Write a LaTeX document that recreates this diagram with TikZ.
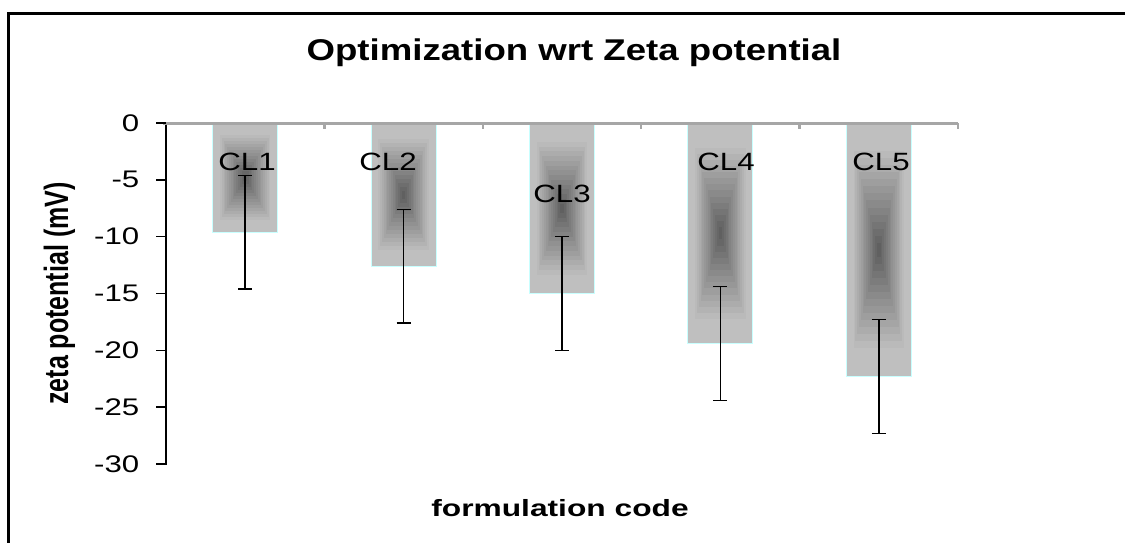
\documentclass[tikz,border=0pt]{standalone}
\usepackage{fontspec}
\setmainfont{Liberation Sans}
\usepackage{graphicx}
\definecolor{axisgray}{RGB}{166,166,166}
\definecolor{barcyan}{RGB}{200,255,255}
\newcommand\sxs[2]{\scalebox{#1}[1]{#2}}
\tikzset{
  frameline/.style={line width=2.5pt, black},
  yaxisline/.style={line width=1.5pt, black},
  xaxisline/.style={line width=3pt, draw=axisgray},
  errline/.style={line width=1.5pt, black},
  barborder/.style={draw=barcyan, line width=1pt},
  ticklab/.style={anchor=east, inner sep=0pt, font=\fontsize{24}{28}\selectfont},
  cllab/.style={anchor=base, inner sep=0pt, font=\fontsize{25}{30}\selectfont},
}
\newcommand\zbar[2]{% #1 = centre x, #2 = bottom y (page px, from top)
  \foreach \j in {0,...,17}{
    \pgfmathsetmacro\s{\j/18}
    \pgfmathsetmacro\f{max(0,(\s-0.18)/0.82)}
    \pgfmathsetmacro\p{25+40*\f}
    \pgfmathsetmacro\xl{#1-32.5*(1-\s)}
    \pgfmathsetmacro\xr{#1+32.5*(1-\s)}
    \pgfmathsetmacro\yt{-(123+(#2-123)/2*\s)}
    \pgfmathsetmacro\yb{-(#2-(#2-123)/2*\s)}
    \fill[black!\p] (\xl,\yt) rectangle (\xr,\yb);
  }
  \draw[barborder] ({#1-32.5},-123) rectangle ({#1+32.5},-#2);
}
\newcommand\zerr[2]{% centre x, value y (page px)
  \draw[errline] ({#1},{-(#2-56.8)}) -- ({#1},{-(#2+56.8)});
  \draw[errline] ({#1-7},{-(#2-56.8)}) -- ({#1+7},{-(#2-56.8)});
  \draw[errline] ({#1-7},{-(#2+56.8)}) -- ({#1+7},{-(#2+56.8)});
}
\begin{document}
\begin{tikzpicture}[x=1pt,y=1pt]
\useasboundingbox (0,0) rectangle (1125,-542);
\clip (0,0) rectangle (1125,-542);
\fill[white] (0,0) rectangle (1125,-542);
% outer frame
\draw[frameline] (8.5,-560) -- (8.5,-13.5) -- (1140,-13.5);
% title
\node[anchor=base, inner sep=0pt, font=\bfseries\fontsize{30}{36}\selectfont] (title) at (574,-60) {\sxs{1.22}{Optimization wrt Zeta potential}};
% bars
\zbar{245.2}{232.1}
\zbar{403.6}{266.2}
\zbar{562.0}{293.5}
\zbar{720.4}{343.5}
\zbar{878.8}{376.5}
% x axis
\draw[xaxisline] (163,-123) -- (958,-123);
\foreach \k in {1,...,5}{
  \draw[xaxisline, line width=2.5pt] ({166+158.4*\k},-123) -- ({166+158.4*\k},-129);
}
% y axis
\draw[yaxisline] (166,-124.5) -- (166,-465);
\foreach \k/\lab in {0/0,1/-5,2/-10,3/-15,4/-20,5/-25,6/-30}{
  \draw[yaxisline] (156,{-(123+56.83*\k)}) -- (166,{-(123+56.83*\k)});
  \node[ticklab] (t\k) at (139.5,{-(123+56.83*\k)}) {\sxs{1.3}{\lab}};
}
% error bars
\zerr{245.2}{232.1}
\zerr{403.6}{266.2}
\zerr{562.0}{293.5}
\zerr{720.4}{343.5}
\zerr{878.8}{376.5}
% data labels
\node[cllab] (cl1) at (247,-170) {\sxs{1.25}{CL1}};
\node[cllab] (cl2) at (388,-170) {\sxs{1.25}{CL2}};
\node[cllab] (cl3) at (562,-202) {\sxs{1.25}{CL3}};
\node[cllab] (cl4) at (726,-170) {\sxs{1.25}{CL4}};
\node[cllab] (cl5) at (881,-170) {\sxs{1.25}{CL5}};
% axis titles
\node[anchor=base, inner sep=0pt, font=\bfseries\fontsize{23.5}{28}\selectfont] (xlab) at (560,-516) {\sxs{1.35}{formulation code}};
\node[rotate=90, anchor=base, inner sep=0pt, font=\bfseries\fontsize{25}{30}\selectfont] (ylab) at (68,-293.5) {\scalebox{1}[1.35]{zeta potential (mV)}};
\end{tikzpicture}
\end{document}
